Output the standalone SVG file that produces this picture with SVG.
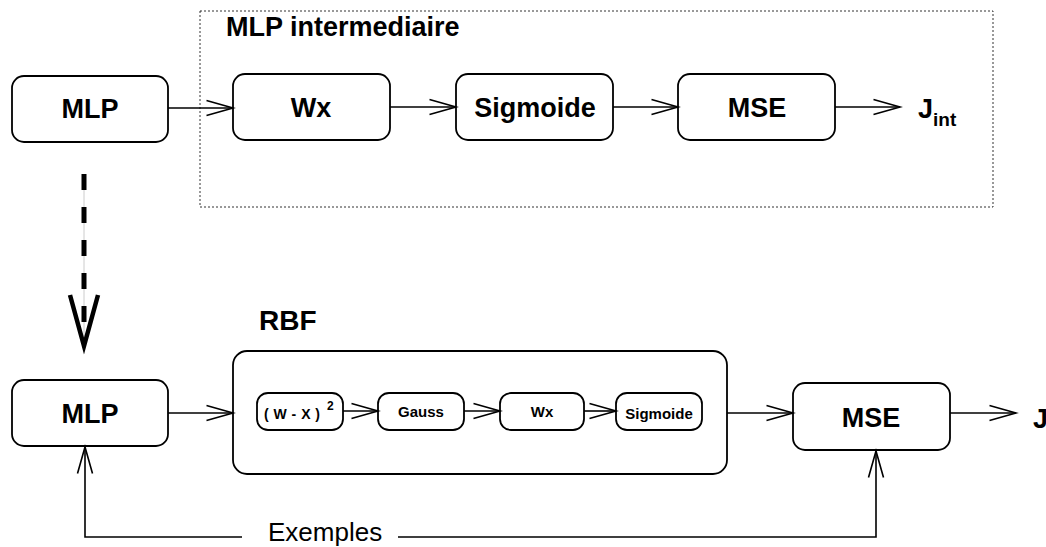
<svg xmlns="http://www.w3.org/2000/svg" width="1046" height="547" viewBox="0 0 1046 547">
<style>
.box{fill:#fff;stroke:#000;stroke-width:1.8}
.lbl{font-family:"Liberation Sans",Arial,sans-serif;font-weight:bold;fill:#000}
.big{font-size:27px;text-anchor:middle}
.sm{font-size:15px;text-anchor:middle}
.con{fill:none;stroke:#000;stroke-width:1.6}
</style>
<defs>
<marker id="v" viewBox="0 0 28 16" markerWidth="28" markerHeight="16" refX="26.5" refY="8" orient="auto" markerUnits="userSpaceOnUse" overflow="visible">
<path d="M0,0.5 L26.5,8 L0,15.5" fill="none" stroke="#000" stroke-width="1.6"/>
</marker>
</defs>
<rect x="0" y="0" width="1046" height="547" fill="#fff"/>

<g id="group-mlp-intermediaire">
<rect x="200" y="11" width="793" height="196" fill="none" stroke="#333" stroke-width="1" stroke-dasharray="2 2"/>
<text class="lbl" x="226" y="36" font-size="27">MLP intermediaire</text>
</g>

<g id="mlp-top"><rect class="box" x="12" y="76" width="156" height="66" rx="12"/><text class="lbl big" x="90" y="118">MLP</text></g>
<g id="wx-top"><rect class="box" x="233" y="74" width="157" height="66" rx="12"/><text class="lbl big" x="311" y="117">Wx</text></g>
<g id="sigmoide-top"><rect class="box" x="456" y="74" width="157" height="66" rx="12"/><text class="lbl big" x="535" y="117">Sigmoide</text></g>
<g id="mse-top"><rect class="box" x="678" y="74" width="157" height="66" rx="12"/><text class="lbl big" x="757" y="117">MSE</text></g>
<g id="jint"><text class="lbl" x="918" y="118" font-size="27">J<tspan font-size="19" dy="8">int</tspan></text></g>

<g id="rbf">
<text class="lbl" x="259" y="330" font-size="28">RBF</text>
<rect class="box" x="233" y="351" width="494" height="123" rx="14"/>
</g>
<g id="mlp-bottom"><rect class="box" x="12" y="380" width="156" height="66" rx="12"/><text class="lbl big" x="90" y="423">MLP</text></g>
<g id="wx2"><rect class="box" x="257" y="393" width="86" height="37" rx="11"/><text class="lbl" x="264" y="419" font-size="14" textLength="56" lengthAdjust="spacing">( W - X )</text><text class="lbl" x="327" y="410" font-size="12">2</text></g>
<g id="gauss"><rect class="box" x="378" y="393" width="86" height="37" rx="11"/><text class="lbl sm" x="421" y="417">Gauss</text></g>
<g id="wx-rbf"><rect class="box" x="500" y="393" width="84" height="37" rx="11"/><text class="lbl sm" x="542" y="417">Wx</text></g>
<g id="sigmoide-rbf"><rect class="box" x="616" y="393" width="86" height="37" rx="11"/><text class="lbl sm" x="659" y="419">Sigmoide</text></g>
<g id="mse-bottom"><rect class="box" x="793" y="383" width="157" height="67" rx="12"/><text class="lbl big" x="871" y="427">MSE</text></g>
<g id="j"><text class="lbl" x="1033" y="428" font-size="27">J</text></g>

<g id="connectors">
<line class="con" x1="168" y1="108" x2="233" y2="108" marker-end="url(#v)"/>
<line class="con" x1="390" y1="107" x2="456" y2="107" marker-end="url(#v)"/>
<line class="con" x1="613" y1="107" x2="678" y2="107" marker-end="url(#v)"/>
<line class="con" x1="835" y1="107" x2="900" y2="107" marker-end="url(#v)"/>

<line x1="84" y1="174" x2="84" y2="345" stroke="#ccc" stroke-width="1"/>
<line x1="84" y1="174" x2="84" y2="322" stroke="#000" stroke-width="5" stroke-dasharray="16 17"/>
<polyline points="70,295 84,346 98,295" fill="none" stroke="#000" stroke-width="4.5"/>

<line class="con" x1="168" y1="413" x2="233" y2="413" marker-end="url(#v)"/>
<line class="con" x1="343" y1="411" x2="378" y2="411" marker-end="url(#v)"/>
<line class="con" x1="464" y1="411" x2="500" y2="411" marker-end="url(#v)"/>
<line class="con" x1="584" y1="411" x2="616" y2="411" marker-end="url(#v)"/>
<line class="con" x1="727" y1="413" x2="793" y2="413" marker-end="url(#v)"/>
<line class="con" x1="950" y1="413" x2="1016" y2="413" marker-end="url(#v)"/>

<polyline class="con" points="242,537 85,537 85,447" marker-end="url(#v)"/>
<polyline class="con" points="398,537 876,537 876,451" marker-end="url(#v)"/>
<text x="268" y="541" font-family="Liberation Sans, Arial, sans-serif" font-size="26" fill="#000">Exemples</text>
</g>
</svg>
